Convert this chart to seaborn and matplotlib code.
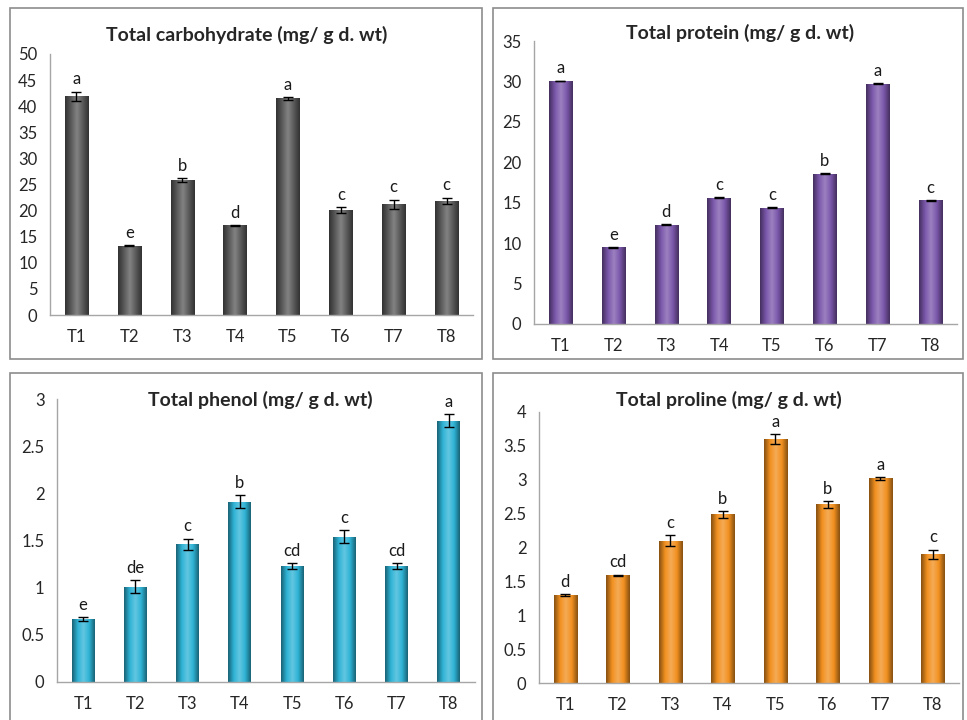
import numpy as np
import pandas as pd
import matplotlib
matplotlib.use("Agg")
import matplotlib.pyplot as plt
import seaborn as sns
from matplotlib.colors import LinearSegmentedColormap, to_rgb
from matplotlib.patches import Rectangle

treatments = ["T1", "T2", "T3", "T4", "T5", "T6", "T7", "T8"]

carb_mean = [41.9, 13.3, 25.9, 17.2, 41.5, 20.1, 21.2, 21.9]
carb_err = [0.9, 0.1, 0.4, 0.1, 0.3, 0.6, 0.9, 0.6]
carb_letters = ["a", "e", "b", "d", "a", "c", "c", "c"]

prot_mean = [30.05, 9.5, 12.3, 15.6, 14.4, 18.6, 29.7, 15.3]
prot_err = [0.05, 0.05, 0.05, 0.05, 0.05, 0.05, 0.05, 0.05]
prot_letters = ["a", "e", "d", "c", "c", "b", "a", "c"]

phen_mean = [0.67, 1.01, 1.46, 1.91, 1.23, 1.54, 1.23, 2.77]
phen_err = [0.02, 0.07, 0.06, 0.07, 0.03, 0.07, 0.03, 0.07]
phen_letters = ["e", "de", "c", "b", "cd", "c", "cd", "a"]

prol_mean = [1.30, 1.59, 2.10, 2.49, 3.60, 2.64, 3.02, 1.90]
prol_err = [0.01, 0.01, 0.08, 0.05, 0.07, 0.05, 0.02, 0.07]
prol_letters = ["d", "cd", "c", "b", "a", "b", "a", "c"]

sns.set_style("white")
plt.rcParams["font.family"] = ["Lato", "DejaVu Sans"]

fig = plt.figure(figsize=(9.67, 7.2), dpi=100)
W, H = 967.0, 720.0


def px_axes(left, right, top, bottom):
    return fig.add_axes([left / W, 1 - bottom / H, (right - left) / W, (bottom - top) / H])


def shade(ax, base):
    # cylinder-like shading of each bar
    c = np.array(to_rgb(base))
    dark = c * 0.55
    light = np.clip(c + (1 - c) * 0.25, 0, 1)
    cmap = LinearSegmentedColormap.from_list("cyl", [dark, c, light, c, dark])
    grad = np.linspace(0, 1, 64).reshape(1, -1)
    xl, yl = ax.get_xlim(), ax.get_ylim()
    for p in list(ax.patches):
        x, y = p.get_x(), p.get_y()
        w, h = p.get_width(), p.get_height()
        im = ax.imshow(grad, cmap=cmap, aspect="auto", extent=[x, x + w, y, y + h],
                       zorder=2, interpolation="bicubic")
        im.set_clip_path(p)
    ax.set_xlim(xl)
    ax.set_ylim(yl)


def panel(ax, title, title_xy, means, errs, letters, color, ymax, step, box):
    df = pd.DataFrame({"Treatment": treatments, "Value": means})
    sns.barplot(data=df, x="Treatment", y="Value", color=color, width=0.44,
                saturation=1, ax=ax, zorder=2)
    ax.set_xlim(-0.5, len(treatments) - 0.5)
    ax.set_ylim(0, ymax)
    shade(ax, color)
    ax.errorbar(range(len(treatments)), means, yerr=errs, fmt="none", ecolor="black",
                elinewidth=1, capsize=3.5, capthick=1, zorder=4)
    for i, (m, e, lt) in enumerate(zip(means, errs, letters)):
        ax.annotate(lt, (i, m + e), xytext=(0, 3), textcoords="offset points",
                    ha="center", va="bottom", fontsize=12, color="#1a1a1a")
    ticks = np.arange(0, ymax + step / 2, step)
    ax.set_yticks(ticks)
    ax.set_yticklabels([f"{t:g}" for t in ticks])
    ax.set_xticks(range(len(treatments)))
    ax.set_xticks(np.arange(-0.5, len(treatments), 1), minor=True)
    ax.tick_params(axis="x", which="major", length=0, pad=10, labelsize=12)
    ax.tick_params(axis="x", which="minor", length=5, color="#a6a6a6", direction="out")
    ax.tick_params(axis="y", length=5, color="#a6a6a6", direction="out", labelsize=12, pad=4)
    for s in ["top", "right"]:
        ax.spines[s].set_visible(False)
    for s in ["left", "bottom"]:
        ax.spines[s].set_color("#a6a6a6")
        ax.spines[s].set_linewidth(1)
    ax.set_xlabel("")
    ax.set_ylabel("")
    ax.patch.set_alpha(0)
    bl, br, bt, bb = box
    fig.patches.append(Rectangle((bl / W, 1 - bb / H), (br - bl) / W, (bb - bt) / H,
                                 transform=fig.transFigure, fill=False,
                                 edgecolor="#8c8c8c", linewidth=1.2, zorder=0))
    fig.text(title_xy[0] / W, 1 - title_xy[1] / H, title, ha="center", va="center",
             fontsize=14, fontweight="bold")
    return ax


ax1 = px_axes(50, 473, 54, 315)
panel(ax1, "Total carbohydrate (mg/ g d. wt)", (247, 35), carb_mean, carb_err,
      carb_letters, "#5a5a5a", 50, 5, (10, 482, 8, 359))

ax2 = px_axes(534, 957, 41, 324)
panel(ax2, "Total protein (mg/ g d. wt)", (740, 33), prot_mean, prot_err,
      prot_letters, "#7b57ab", 35, 5, (493, 963, 8, 359))

ax3 = px_axes(57, 475, 399, 682)
panel(ax3, "Total phenol (mg/ g d. wt)", (260, 400), phen_mean, phen_err,
      phen_letters, "#2fb3d6", 3, 0.5, (10, 482, 373, 725))

ax4 = px_axes(539, 959, 412, 683)
panel(ax4, "Total proline (mg/ g d. wt)", (729, 400), prol_mean, prol_err,
      prol_letters, "#f2901f", 4, 0.5, (493, 963, 373, 725))

fig.savefig("out.png", dpi=100)
